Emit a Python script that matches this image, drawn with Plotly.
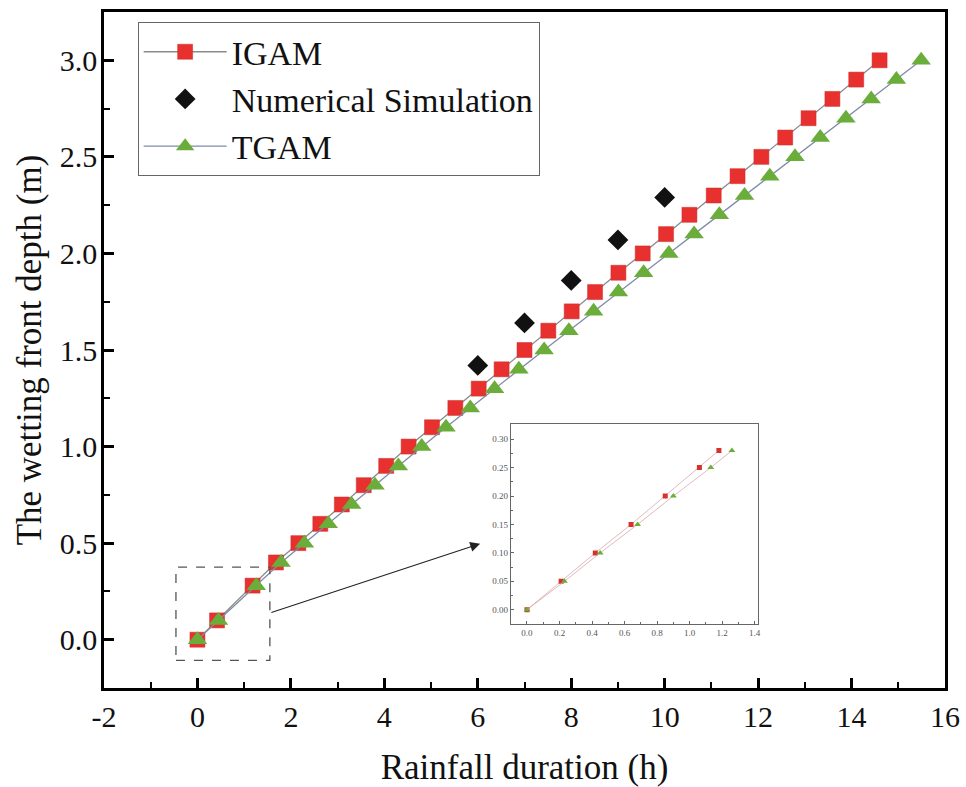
import plotly.graph_objects as go

# ---- data ----
depth = [0, 0.1, 0.28, 0.4, 0.5, 0.6, 0.7, 0.8, 0.9, 1.0, 1.1, 1.2, 1.3, 1.4, 1.5,
         1.6, 1.7, 1.8, 1.9, 2.0, 2.1, 2.2, 2.3, 2.4, 2.5, 2.6, 2.7, 2.8, 2.9, 3.0]
igam_t = [0, 0.42, 1.18, 1.68, 2.16, 2.63, 3.09, 3.56, 4.04, 4.52, 5.02, 5.52, 6.02, 6.51, 7.0,
          7.51, 8.01, 8.51, 9.01, 9.53, 10.03, 10.53, 11.05, 11.56, 12.07, 12.58, 13.08, 13.59, 14.10, 14.60]
tgam_t = [0, 0.45, 1.26, 1.79, 2.29, 2.80, 3.30, 3.80, 4.30, 4.80, 5.32, 5.84, 6.36, 6.88, 7.42,
          7.95, 8.48, 9.01, 9.55, 10.09, 10.63, 11.17, 11.71, 12.25, 12.79, 13.33, 13.88, 14.42, 14.96, 15.49]
sim_t = [6, 7, 8, 9, 10]
sim_depth = [1.42, 1.64, 1.86, 2.07, 2.29]

inset_depth = [0, 0.05, 0.10, 0.15, 0.20, 0.25, 0.28]
inset_igam_t = [0, 0.21, 0.42, 0.64, 0.85, 1.06, 1.18]
inset_tgam_t = [0, 0.23, 0.45, 0.68, 0.90, 1.13, 1.26]

x_ticks = [-2, 0, 2, 4, 6, 8, 10, 12, 14, 16]
y_ticks = [0.0, 0.5, 1.0, 1.5, 2.0, 2.5, 3.0]
inset_x_ticks = [0.0, 0.2, 0.4, 0.6, 0.8, 1.0, 1.2, 1.4]
inset_y_ticks = [0.00, 0.05, 0.10, 0.15, 0.20, 0.25, 0.30]

RED = "#e8302e"
GREEN = "#6aad3a"
FONT = "Liberation Serif, Times New Roman, serif"

fig = go.Figure()

fig.add_trace(go.Scatter(
    x=igam_t, y=depth, name="IGAM", mode="lines+markers",
    line=dict(color="#8a8a8a", width=1.3),
    marker=dict(symbol="square", size=15, color=RED, line=dict(color="#c9302c", width=0.5)),
))
fig.add_trace(go.Scatter(
    x=sim_t, y=sim_depth, name="Numerical Simulation", mode="markers",
    marker=dict(symbol="diamond", size=16, color="#111111"),
))
fig.add_trace(go.Scatter(
    x=tgam_t, y=depth, name="TGAM", mode="lines+markers",
    line=dict(color="#7f8ba8", width=1.3),
    marker=dict(symbol="triangle-up", size=17, color=GREEN, line=dict(width=0)),
))

# inset
fig.add_trace(go.Scatter(
    x=inset_igam_t, y=inset_depth, mode="lines+markers", showlegend=False,
    xaxis="x2", yaxis="y2",
    line=dict(color="#d8a8a8", width=0.8),
    marker=dict(symbol="square", size=5, color="#d9302c"),
))
fig.add_trace(go.Scatter(
    x=inset_tgam_t, y=inset_depth, mode="lines+markers", showlegend=False,
    xaxis="x2", yaxis="y2",
    line=dict(color="#d8a8a8", width=0.8),
    marker=dict(symbol="triangle-up", size=6, color="#6aad3a"),
))

axis_common = dict(
    showline=True, linecolor="black", linewidth=2.5, mirror=True,
    ticks="inside", ticklen=10, tickwidth=2.5, tickcolor="black",
    showgrid=False, zeroline=False, automargin=False,
    tickfont=dict(family=FONT, size=30, color="#111"),
)

fig.update_layout(
    width=966, height=787,
    margin=dict(l=104, r=21, t=12, b=99),
    paper_bgcolor="white", plot_bgcolor="white",
    font=dict(family=FONT, color="#111"),
    xaxis=dict(
        **axis_common,
        range=[-2, 16], tickvals=x_ticks, ticktext=[str(v) for v in x_ticks],
        minor=dict(ticks="inside", ticklen=6, tickwidth=2, tickcolor="black", dtick=1, tick0=-1),
        ticklabelstandoff=0,
        title=dict(text="Rainfall duration (h)", font=dict(family=FONT, size=35, color="#111"), standoff=24),
    ),
    yaxis=dict(
        **axis_common,
        range=[-0.25, 3.25], tickvals=y_ticks, ticktext=[f"{v:.1f}" for v in y_ticks],
        minor=dict(ticks="inside", ticklen=6, tickwidth=2, tickcolor="black", dtick=0.25, tick0=0.25),
        ticklabelstandoff=-2,
        title=dict(text="The wetting front depth (m)", font=dict(family=FONT, size=35, color="#111"), standoff=8),
    ),
    xaxis2=dict(
        domain=[0.4836, 0.7776], anchor="y2", range=[-0.1, 1.42],
        showline=True, linecolor="#666", linewidth=1, mirror=True,
        ticks="inside", ticklen=3, tickwidth=1, tickcolor="#666",
        minor=dict(ticks="inside", ticklen=2, tickwidth=1, tickcolor="#666", dtick=0.1),
        tickvals=inset_x_ticks, ticktext=[f"{v:.1f}" for v in inset_x_ticks],
        showgrid=False, zeroline=False, automargin=False,
        tickfont=dict(family=FONT, size=9, color="#555555"),
    ),
    yaxis2=dict(
        domain=[0.0947, 0.390], anchor="x2", range=[-0.025, 0.326],
        showline=True, linecolor="#666", linewidth=1, mirror=True,
        ticks="inside", ticklen=3, tickwidth=1, tickcolor="#666",
        minor=dict(ticks="inside", ticklen=2, tickwidth=1, tickcolor="#666", dtick=0.025),
        tickvals=inset_y_ticks, ticktext=[f"{v:.2f}" for v in inset_y_ticks],
        showgrid=False, zeroline=False, automargin=False,
        tickfont=dict(family=FONT, size=9, color="#555555"),
    ),
    legend=dict(
        x=0.04, y=0.985, xanchor="left", yanchor="top",
        bgcolor="white", bordercolor="#666", borderwidth=1,
        font=dict(family=FONT, size=34, color="#111"),
        itemwidth=83, tracegroupgap=0,
    ),
    showlegend=True,
)

# dashed zoom box around the origin
fig.add_shape(type="rect", xref="x", yref="y", x0=-0.46, x1=1.55, y0=-0.107, y1=0.376,
              line=dict(color="#555", width=1.3, dash="dash"), fillcolor="rgba(0,0,0,0)")

# arrow from box to inset
fig.add_annotation(xref="x", yref="y", axref="x", ayref="y",
                   x=6.05, y=0.497, ax=1.55, ay=0.138,
                   showarrow=True, arrowhead=2, arrowsize=1.8, arrowwidth=1.1,
                   arrowcolor="#222", text="")

fig.write_html("out.html",
               config={"displayModeBar": False},
               post_script="document.body.style.margin='0';document.body.style.overflow='hidden';")
